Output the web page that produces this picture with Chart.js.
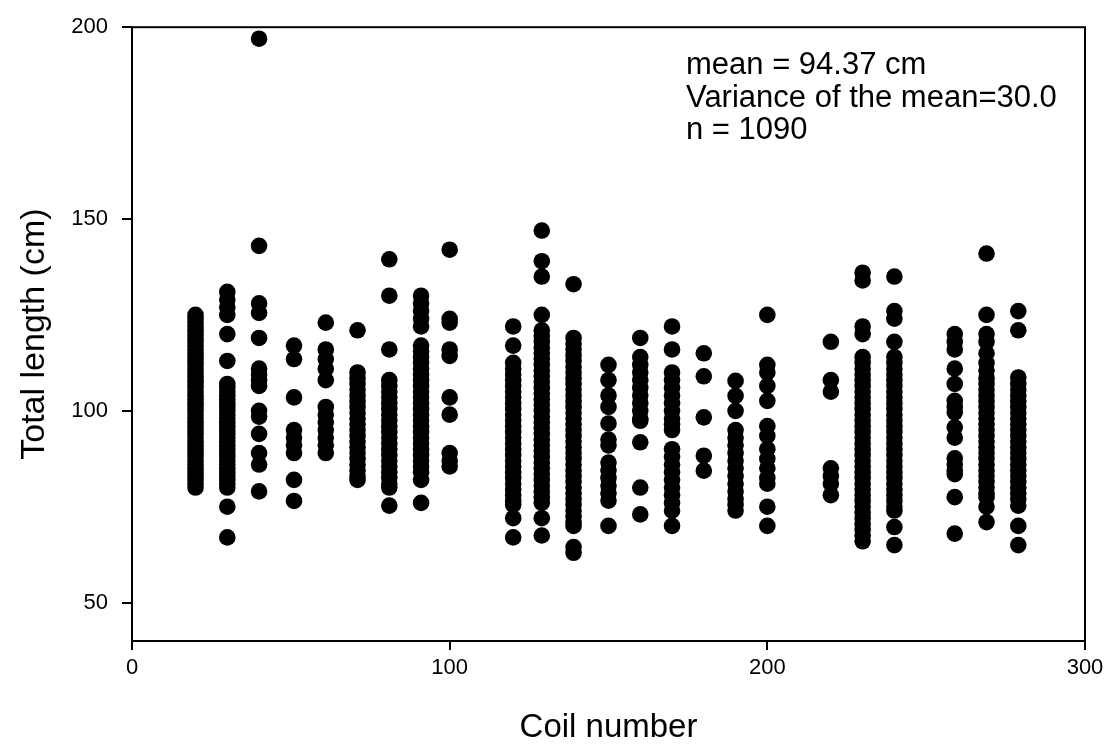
<!DOCTYPE html>
<html>
<head>
<meta charset="utf-8">
<title>Total length by coil number</title>
<script src="https://cdn.jsdelivr.net/npm/chart.js@4.4.1/dist/chart.umd.min.js"></script>
<style>
    html, body { margin: 0; padding: 0; background: #ffffff; }
    #wrap { width: 1110px; height: 744px; position: relative; }
</style>
</head>
<body>
<div id="wrap"><canvas id="coilChart"></canvas></div>
<script>
// Coil numbers (x) where the fish were sampled
const coils = [20, 30, 40, 51, 61, 71, 81, 91, 100, 120, 129, 139, 150, 160, 170, 180, 190, 200, 220, 230, 240, 259, 269, 279];

// Total length (cm) read for each coil, top to bottom
const L20 = [125, 124, 123, 122, 121, 120, 119, 118, 117, 116, 115, 114, 113, 112, 111, 110, 109, 108, 107, 106, 105, 104, 103, 102, 101, 100, 99, 98, 97, 96, 95, 94, 93, 92, 91, 90, 89, 88, 87, 86, 85, 84, 83, 82, 81, 80];
const L30 = [131, 129, 127, 125, 120, 113, 107, 106, 105, 104, 103, 102, 101, 100, 99, 98, 97, 96, 95, 94, 93, 92, 91, 90, 89, 88, 87, 86, 85, 84, 83, 82, 81, 80, 75, 67];
const L40 = [197, 143, 128, 125.5, 119, 111, 109.5, 108, 106.5, 100, 98.5, 94, 89, 86, 79];
const L51 = [117, 113.5, 103.5, 95, 93, 91, 89, 82, 76.5];
const L61 = [123, 116, 113.5, 111, 108, 101, 99, 97, 95, 93, 91, 89];
const L71 = [121, 110, 108.5, 107, 105.5, 104, 102.5, 101, 99.5, 98, 96.5, 95, 93.5, 92, 90.5, 89, 87.5, 86, 84.5, 83, 82];
const L81 = [139.5, 130, 116, 108, 106.5, 105, 103.5, 102, 100.5, 99, 97.5, 96, 94.5, 93, 91.5, 90, 88.5, 87, 85.5, 84, 82.5, 81, 80, 75.3];
const L91 = [130, 128, 126, 124, 122, 117, 115.5, 114, 112.5, 111, 109.5, 108, 106.5, 105, 103.5, 102, 100.5, 99, 97.5, 96, 94.5, 93, 91.5, 90, 88.5, 87, 85.5, 84, 82, 76];
const L100 = [142, 124, 123, 116, 114.3, 103.5, 99, 89, 87, 85.5];
const L120 = [122, 117, 112.5, 111, 109.5, 108, 106.5, 105, 103.5, 102, 100.5, 99, 97.5, 96, 94.5, 93, 91.5, 90, 88.5, 87, 85.5, 84, 82.5, 81, 79.5, 78, 76.5, 75.5, 72, 67];
const L129 = [147, 139, 135, 125, 121, 119.5, 118, 116.5, 115, 113.5, 112, 110.5, 109, 107.5, 106, 104.5, 103, 101.5, 100, 98.5, 97, 95.5, 94, 92.5, 91, 89.5, 88, 86.5, 85, 83.5, 82, 80.5, 79, 77.5, 76, 72, 67.5];
const L139 = [133, 119, 117.5, 116, 114.5, 113, 111.5, 110, 108.5, 107, 105.5, 104, 102.5, 101, 99.5, 98, 96.5, 95, 93.5, 92, 90.5, 89, 87.5, 86, 84.5, 83, 81.5, 80, 78.5, 77, 75.5, 74, 72.5, 71, 70, 64.5, 63];
const L150 = [112, 108, 104, 101, 96.7, 92.5, 91, 86.5, 84.5, 82.5, 80.5, 78.5, 76.6, 70];
const L160 = [119, 114, 112, 110, 108, 106, 104, 102, 100, 98, 97.4, 91.8, 80, 73];
const L170 = [122, 116, 110, 108, 106, 104, 102, 100, 98, 96.5, 95, 90, 88, 86, 84, 82, 80, 78, 76, 74, 70];
const L180 = [115, 109, 98.3, 88.3, 84.4];
const L190 = [107.8, 103.9, 100, 95, 93, 91, 89, 87, 85, 83, 81, 79, 77, 75.5, 74];
const L200 = [125, 112, 110, 106.5, 102.6, 96, 93.5, 90, 87.5, 85, 82.5, 81, 75, 70];
const L220 = [118, 108, 105, 85, 83, 81, 78];
const L230 = [136, 134, 122, 120, 114, 112.5, 111, 109.5, 108, 106.5, 105, 103.5, 102, 100.5, 99, 97.5, 96, 94.5, 93, 91.5, 90, 88.5, 87, 85.5, 84, 82.5, 81, 79.5, 78, 76.5, 75, 73.5, 72, 70.5, 69, 67.5, 66];
const L240 = [135, 126, 124, 118, 114, 112.5, 111, 109.5, 108, 106.5, 105, 103.5, 102, 100.5, 99, 97.5, 96, 94.5, 93, 91.5, 90, 88.5, 87, 85.5, 84, 82.5, 81, 79.5, 78, 76.5, 75, 74, 69.7, 65];
const L259 = [120, 118, 116, 111, 107, 102.6, 101, 99.6, 95.7, 93, 87.6, 86, 84.5, 83.5, 77.5, 68];
const L269 = [141, 125, 120, 118, 115, 112.5, 110.5, 108.5, 107, 105.5, 104, 102.5, 101, 99.5, 98, 96.5, 95, 93.5, 92, 90.5, 89, 87.5, 86, 84.5, 83, 81.5, 80, 78.5, 77.5, 75, 71];
const L279 = [126, 121, 108.7, 107, 105.5, 104, 102.5, 101, 99.5, 98, 96.5, 95, 93.5, 92, 90.5, 89, 87.5, 86, 84.5, 83, 81.5, 80, 78.5, 77, 75.3, 70, 65];

const lengthsByCoil = [L20, L30, L40, L51, L61, L71, L81, L91, L100, L120, L129, L139, L150, L160, L170, L180, L190, L200, L220, L230, L240, L259, L269, L279];

// Tick labels
const xTicks = [0, 100, 200, 300];
const yTicks = [50, 100, 150, 200];

// Texto do canto superior direito
const statsText = ['mean = 94.37 cm', 'Variance of the mean=30.0', 'n = 1090'];

const points = [];
coils.forEach((coil, i) => {
    lengthsByCoil[i].forEach(len => points.push({ x: coil, y: len }));
});

const fontFamily = '"Liberation Sans", Arial, Helvetica, sans-serif';
Chart.defaults.font.family = fontFamily;
Chart.defaults.color = '#000000';

// Caixa em volta da area do grafico + texto das estatisticas
const framePlugin = {
    id: 'frame',
    afterDraw(chart, args, opts) {
        const { ctx, chartArea: a } = chart;
        ctx.save();
        ctx.strokeStyle = '#000';
        ctx.lineWidth = 2;
        ctx.strokeRect(a.left, a.top, a.right - a.left, a.bottom - a.top);
        ctx.fillStyle = '#000';
        ctx.font = opts.fontSize + 'px ' + fontFamily;
        ctx.textBaseline = 'alphabetic';
        ctx.textAlign = 'left';
        statsText.forEach((t, i) => {
            ctx.fillText(t, opts.x, opts.y + i * opts.lineGap);
        });
        ctx.restore();
    }
};

new Chart(document.getElementById('coilChart'), {
    type: 'scatter',
    data: {
        datasets: [{
            label: 'Total length',
            data: points,
            backgroundColor: '#000000',
            borderWidth: 0,
            pointRadius: 8.3,
            pointHoverRadius: 8.3,
        }]
    },
    options: {
        responsive: true,
        maintainAspectRatio: false,
        devicePixelRatio: 1,
        animation: false,
        layout: {
            padding: { top: 25, right: 25, left: 0, bottom: 0 }
        },
        plugins: {
            legend: { display: false },
            tooltip: { enabled: false },
            frame: { x: 686, y: 74, lineGap: 32.5, fontSize: 31 }
        },
        scales: {
            x: {
                type: 'linear',
                min: 0,
                max: 300,
                afterFit: (scale) => { scale.height = 103; },
                afterBuildTicks: (scale) => { scale.ticks = xTicks.map(v => ({ value: v })); },
                border: { display: false },
                grid: {
                    drawOnChartArea: false,
                    drawTicks: true,
                    tickLength: 9,
                    color: '#000',
                    lineWidth: 2,
                },
                ticks: {
                    color: '#000',
                    padding: 5,
                    maxRotation: 0,
                    font: { size: 22 }
                },
                title: {
                    display: true,
                    text: 'Coil number',
                    color: '#000',
                    font: { size: 33, lineHeight: 1 },
                    padding: { top: 0, bottom: 0 }
                }
            },
            y: {
                type: 'linear',
                min: 40,
                max: 200,
                afterFit: (scale) => { scale.width = 132; },
                afterBuildTicks: (scale) => { scale.ticks = yTicks.map(v => ({ value: v })); },
                border: { display: false },
                grid: {
                    drawOnChartArea: false,
                    drawTicks: true,
                    tickLength: 10,
                    color: '#000',
                    lineWidth: 2,
                },
                ticks: {
                    color: '#000',
                    padding: 14,
                    font: { size: 22 }
                },
                title: {
                    display: true,
                    text: 'Total length (cm)',
                    color: '#000',
                    font: { size: 34, lineHeight: 1.2 },
                    padding: { top: 14, bottom: 0 }
                }
            }
        }
    },
    plugins: [framePlugin]
});
</script>
</body>
</html>
